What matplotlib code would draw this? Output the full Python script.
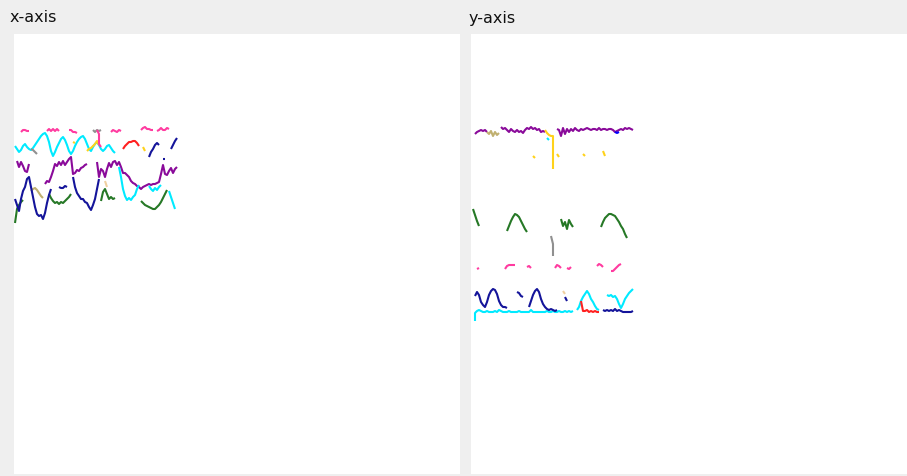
import numpy as np
import matplotlib
matplotlib.use("Agg")
import matplotlib.pyplot as plt

N = None
# ---------------- x-axis panel (sample index, signal value) ----------------
x_pink_t = [3, 4, 5, 6, 7, N, 16, 17, 18, 19, 20, 21, 22, N, 27, 28, 29, 30, 31, N,
            41, 42, 42, 43, N, 48, 49, 50, 51, 52, 53, N, 63, 64, 65, 66, 67, 68, 69, N,
            71, 72, 73, 74, 75, 76, 77]
x_pink_v = [122, 124, 124, 123, 123, N, 123, 125, 123, 125, 123, 125, 123, N, 124, 124, 122, 122, 121, N,
            124, 120, 110, 107, N, 122, 124, 123, 122, 124, 123, N, 124, 126, 127, 125, 125, 124, 124, N,
            123, 124, 126, 124, 124, 126, 125]

x_cyan_t = list(range(0, 51)) + [N] + list(range(52, 63)) + [N] + list(range(67, 74)) + [N] + [77, 78, 79, 80]
x_cyan_v = [108, 105, 102, 104, 108, 110, 107, 105, 104, 106, 109, 112, 115, 118, 120, 121, 118, 112, 103, 98,
            102, 107, 111, 115, 117, 114, 109, 103, 100, 103, 108, 112, 115, 117, 118, 115, 110, 105, 103, 107,
            110, 112, 109, 105, 103, 105, 108, 109, 106, 103, 101, N,
            87, 77, 65, 58, 54, 56, 54, 57, 59, 65, 69, N,
            68, 65, 63, 66, 64, 67, 69, N, 63, 57, 51, 45]

x_purple_t = list(range(1, 8)) + [N] + list(range(15, 37)) + [N] + list(range(41, 82))
x_purple_v = [93, 87, 92, 88, 83, 82, 90, N,
              70, 73, 72, 77, 83, 90, 88, 92, 89, 93, 89, 92, 95, 97, 80, 81, 84, 83, 86, 87, 89, 90, N,
              92, 77, 85, 83, 77, 85, 91, 87, 92, 93, 89, 92, 87, 81, 81, 79, 77, 73, 71, 70, 68, 67, 65,
              67, 68, 69, 70, 69, 70, 70, 71, 72, 80, 89, 80, 79, 83, 86, 81, 85, 87]

x_navy_t = list(range(0, 19)) + [N] + list(range(22, 27)) + [N] + list(range(29, 43)) + [N] + \
           list(range(67, 73)) + [N] + [74, 75] + [N] + [78, 79, 80, 81]
x_navy_v = [55, 49, 43, 55, 63, 67, 75, 77, 67, 57, 47, 40, 38, 39, 35, 41, 51, 59, 65, N,
            67, 66, 66, 68, 67, N,
            77, 67, 61, 58, 55, 55, 52, 51, 47, 44, 49, 55, 65, 75, N,
            97, 102, 105, 109, 111, 109, N, 95, 95, N, 105, 109, 113, 116]

x_green_t = list(range(0, 5)) + [N] + list(range(17, 29)) + [N] + list(range(43, 51)) + [N] + list(range(63, 77))
x_green_v = [31, 45, 49, 52, 54, N,
             60, 56, 53, 51, 52, 50, 52, 51, 53, 55, 57, 60, N,
             53, 62, 65, 60, 55, 57, 55, 56, N,
             53, 51, 49, 48, 47, 46, 45, 45, 47, 49, 52, 56, 60, 64]

x_olive_t = [8, 9, 10, 11, 12, 13, 14]
x_olive_v = [63, 65, 66, 64, 61, 58, 56]

x_gold_t = [29, 30, N, 36, 37, 38, 39, 40, 41, 42, N, 64, 65]
x_gold_v = [112, 111, N, 103, 105, 106, 108, 110, 113, 109, N, 107, 103]

x_red_t = list(range(54, 63))
x_red_v = [105, 108, 110, 112, 112, 113, 113, 111, 108]

x_gray_t = [39, 40, 41, 42, 43, N, 8, 9, 10, 11]
x_gray_v = [124, 122, 124, 123, 124, N, 105, 104, 102, 100]

x_tan_t = [45, 46]
x_tan_v = [73, 67]

# ---------------- y-axis panel ----------------
y_purple_t = list(range(1, 8)) + [N] + list(range(14, 37)) + [N] + list(range(42, 81))
y_purple_v = [120, 122, 123, 124, 123, 124, 122, N,
              127, 125, 126, 124, 122, 125, 123, 122, 124, 122, 123, 121, 124, 126, 125, 127, 125, 126, 124,
              125, 122, 123, 122, N,
              125, 124, 118, 126, 120, 125, 122, 125, 123, 126, 124, 123, 125, 124, 125, 126, 125, 124, 125,
              125, 124, 126, 124, 125, 125, 124, 125, 125, 124, 122, 123, 124, 125, 124, 126, 125, 126, 125, 124]

y_khaki_t = [7, 8, 9, 10, 11, 12, 13]
y_khaki_v = [122, 120, 123, 118, 122, 119, 121]

y_blue_small_t = [71, 72, 73]
y_blue_small_v = [122, 121, 122]

y_cyan_small_t = [37, 38]
y_cyan_small_v = [116, 114]

y_gold_t = [36, 37, 38, 39, 40, 40, N, 42, 43, N, 30, 31, N, 55, 56, N, 65, 66]
y_gold_v = [124, 121, 119, 118, 118, 85, N, 100, 97, N, 98, 96, N, 100, 98, N, 103, 98]

y_green_t = [0, 1, 2, 3, N] + list(range(17, 28)) + [N] + list(range(44, 51)) + [N] + list(range(64, 78))
y_green_v = [45, 39, 33, 28, N,
             23, 28, 33, 37, 40, 39, 37, 33, 29, 25, 22, N,
             35, 28, 32, 25, 34, 30, 27, N,
             27, 32, 36, 38, 40, 40, 39, 38, 35, 32, 28, 25, 20, 16]

y_gray_t = [39, 40, 40]
y_gray_v = [18, 10, -2]

y_pink_t = [2, 3, N, 16, 17, 18, 19, 20, 21, N, 27, 28, 29, N, 41, 42, 43, 44, N, 47, 48, 49, N,
            62, 63, 64, 65, N, 69, 70, 71, 72, 73, 74]
y_pink_v = [-15, -14, N, -15, -12, -11, -11, -11, -11, N, -13, -12, -14, N, -14, -11, -12, -14, N,
            -14, -15, -13, N, -12, -10, -11, -13, N, -17, -17, -15, -13, -11, -10]

y_navy_t = list(range(1, 18)) + [N] + [22, 23, 24, 25] + [N] + list(range(28, 43)) + [N] + [46, 47] + [N] + \
           list(range(65, 81))
y_navy_v = [-42, -38, -41, -48, -51, -53, -48, -41, -37, -35, -36, -40, -47, -51, -53, -53, -54, N,
            -38, -39, -42, -43, N,
            -53, -47, -41, -37, -35, -38, -45, -50, -53, -55, -56, -55, -56, -57, -56, N,
            -43, -47, N,
            -56, -57, -56, -57, -56, -57, -55, -57, -56, -57, -58, -58, -58, -58, -58, -57]

y_cyan_t = [1] + list(range(1, 51)) + [N] + list(range(52, 64)) + [N] + list(range(67, 81))
y_cyan_v = [-67, -59, -57, -56, -57, -58, -58, -57, -58, -58, -58, -57, -58, -56, -57, -58, -58, -58, -57,
            -58, -58, -58, -58, -57, -58, -58, -58, -58, -58, -56, -58, -58, -58, -58, -58, -58, -58,
            -57, -58, -58, -57, -58, -58, -57, -58, -58, -57, -58, -57, -58, -57, N,
            -56, -53, -47, -43, -40, -37, -40, -45, -48, -52, -55, -56, N,
            -41, -42, -41, -43, -42, -45, -50, -54, -50, -45, -42, -39, -37, -35]

y_red_t = list(range(54, 64))
y_red_v = [-47, -57, -57, -56, -58, -57, -58, -57, -58, -58]

y_tan_t = [45, 46]
y_tan_v = [-37, -40]

COL = {
    "pink": "#ff3ba0", "cyan": "#00eaff", "purple": "#8a0a9a", "navy": "#14149a",
    "green": "#267826", "olive": "#c0b070", "gold": "#ffd21a", "red": "#ff2020",
    "gray": "#909090", "tan": "#f0d0a0", "blue": "#0000ff",
}


def arr(a):
    return np.array([np.nan if v is None else v for v in a], dtype=float)


W, H = 907, 477
fig = plt.figure(figsize=(W / 100, H / 100), dpi=100)
fig.patch.set_facecolor("#efefef")

axL = fig.add_axes([14 / W, 2 / H, 446 / W, 440 / H])
axR = fig.add_axes([471 / W, 2 / H, 436 / W, 440 / H])

for ax, xl in ((axL, (-0.5, 222.5)), (axR, (-1.0, 217.0))):
    ax.set_facecolor("white")
    ax.set_xlim(*xl)
    ax.set_ylim(-220, 220)
    ax.set_xticks([])
    ax.set_yticks([])
    for s in ax.spines.values():
        s.set_visible(False)

lw = 1.5
left_series = [
    (x_green_t, x_green_v, "green"), (x_olive_t, x_olive_v, "olive"), (x_navy_t, x_navy_v, "navy"),
    (x_purple_t, x_purple_v, "purple"), (x_cyan_t, x_cyan_v, "cyan"), (x_gray_t, x_gray_v, "gray"),
    (x_gold_t, x_gold_v, "gold"), (x_red_t, x_red_v, "red"), (x_pink_t, x_pink_v, "pink"),
    (x_tan_t, x_tan_v, "tan"),
]
for t, v, c in left_series:
    axL.plot(arr(t), arr(v), color=COL[c], lw=lw, solid_capstyle="butt")

right_series = [
    (y_purple_t, y_purple_v, "purple"), (y_khaki_t, y_khaki_v, "olive"), (y_blue_small_t, y_blue_small_v, "blue"),
    (y_cyan_small_t, y_cyan_small_v, "cyan"), (y_gold_t, y_gold_v, "gold"), (y_green_t, y_green_v, "green"),
    (y_gray_t, y_gray_v, "gray"), (y_pink_t, y_pink_v, "pink"), (y_cyan_t, y_cyan_v, "cyan"),
    (y_navy_t, y_navy_v, "navy"), (y_red_t, y_red_v, "red"), (y_tan_t, y_tan_v, "tan"),
]
for t, v, c in right_series:
    axR.plot(arr(t), arr(v), color=COL[c], lw=lw, solid_capstyle="butt")

fig.text(10 / W, 1 - 18 / H, "x-axis", fontsize=11.5, va="center", ha="left", color="#111111")
fig.text(469 / W, 1 - 18 / H, "y-axis", fontsize=11.5, va="center", ha="left", color="#111111")

fig.savefig("out.png", dpi=100, facecolor=fig.get_facecolor())
